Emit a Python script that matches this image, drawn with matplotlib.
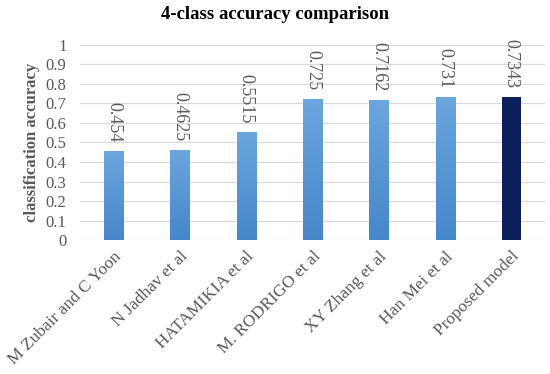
import matplotlib.pyplot as plt
import numpy as np
from matplotlib.patches import Rectangle

methods = [
    "M Zubair and C Yoon",
    "N Jadhav et al",
    "HATAMIKIA et al",
    "M. RODRIGO et al",
    "XY Zhang et al",
    "Han Mei et al",
    "Proposed model",
]
accuracy = [0.454, 0.4625, 0.5515, 0.725, 0.7162, 0.731, 0.7343]
value_labels = ["0.454", "0.4625", "0.5515", "0.725", "0.7162", "0.731", "0.7343"]
yticks = [0, 0.1, 0.2, 0.3, 0.4, 0.5, 0.6, 0.7, 0.8, 0.9, 1]
ytick_labels = ["0", "0.1", "0.2", "0.3", "0.4", "0.5", "0.6", "0.7", "0.8", "0.9", "1"]

TEXT = "#595959"
plt.rcParams["font.family"] = ["Liberation Serif", "DejaVu Serif"]

fig = plt.figure(figsize=(5.5, 3.74), dpi=100)
ax = fig.add_axes([0.146, 0.358, 0.844, 0.522])

x = np.arange(len(methods))
width = 0.287
# vertical gradient for the comparison bars (lighter at top)
t = np.linspace(0, 1, 256).reshape(256, 1, 1)
light = np.array([0.42, 0.65, 0.87]).reshape(1, 1, 3)
dark = np.array([0.27, 0.53, 0.79]).reshape(1, 1, 3)
gradient_img = light + (dark - light) * t

for i, (xi, val) in enumerate(zip(x, accuracy)):
    if i == len(methods) - 1:
        ax.bar(xi, val, width=width, color="#0a1f5c", zorder=3)
    else:
        rect = Rectangle((xi - width / 2, 0), width, val, facecolor="none",
                         edgecolor="none", zorder=3)
        ax.add_patch(rect)
        im = ax.imshow(gradient_img, extent=(xi - width / 2, xi + width / 2, 0, val),
                       origin="upper", aspect="auto", zorder=3)
        im.set_clip_path(rect)
    ax.text(xi, val + 0.045, value_labels[i], rotation=-90, ha="center", va="bottom",
            fontsize=13, color=TEXT)

ax.set_xlim(-0.5, len(methods) - 0.5)
ax.set_ylim(0, 1)
ax.set_yticks(yticks)
ax.set_yticklabels(ytick_labels, fontsize=12, color=TEXT)
ax.set_xticks(x)
ax.set_xticklabels(methods, rotation=45, ha="right", rotation_mode="anchor",
                   fontsize=12.5, color=TEXT)
ax.tick_params(axis="y", length=0, pad=10)
ax.tick_params(axis="x", length=0, pad=6)
ax.grid(axis="y", color="#d9d9d9", linewidth=0.9, zorder=0)
for spine in ax.spines.values():
    spine.set_visible(False)

ax.set_ylabel("classification accuracy", fontsize=12, fontweight="bold", color=TEXT,
              labelpad=4)
fig.suptitle("4-class accuracy comparison", fontsize=13.5, fontweight="bold", y=0.985)

fig.savefig("out.png", dpi=100)
